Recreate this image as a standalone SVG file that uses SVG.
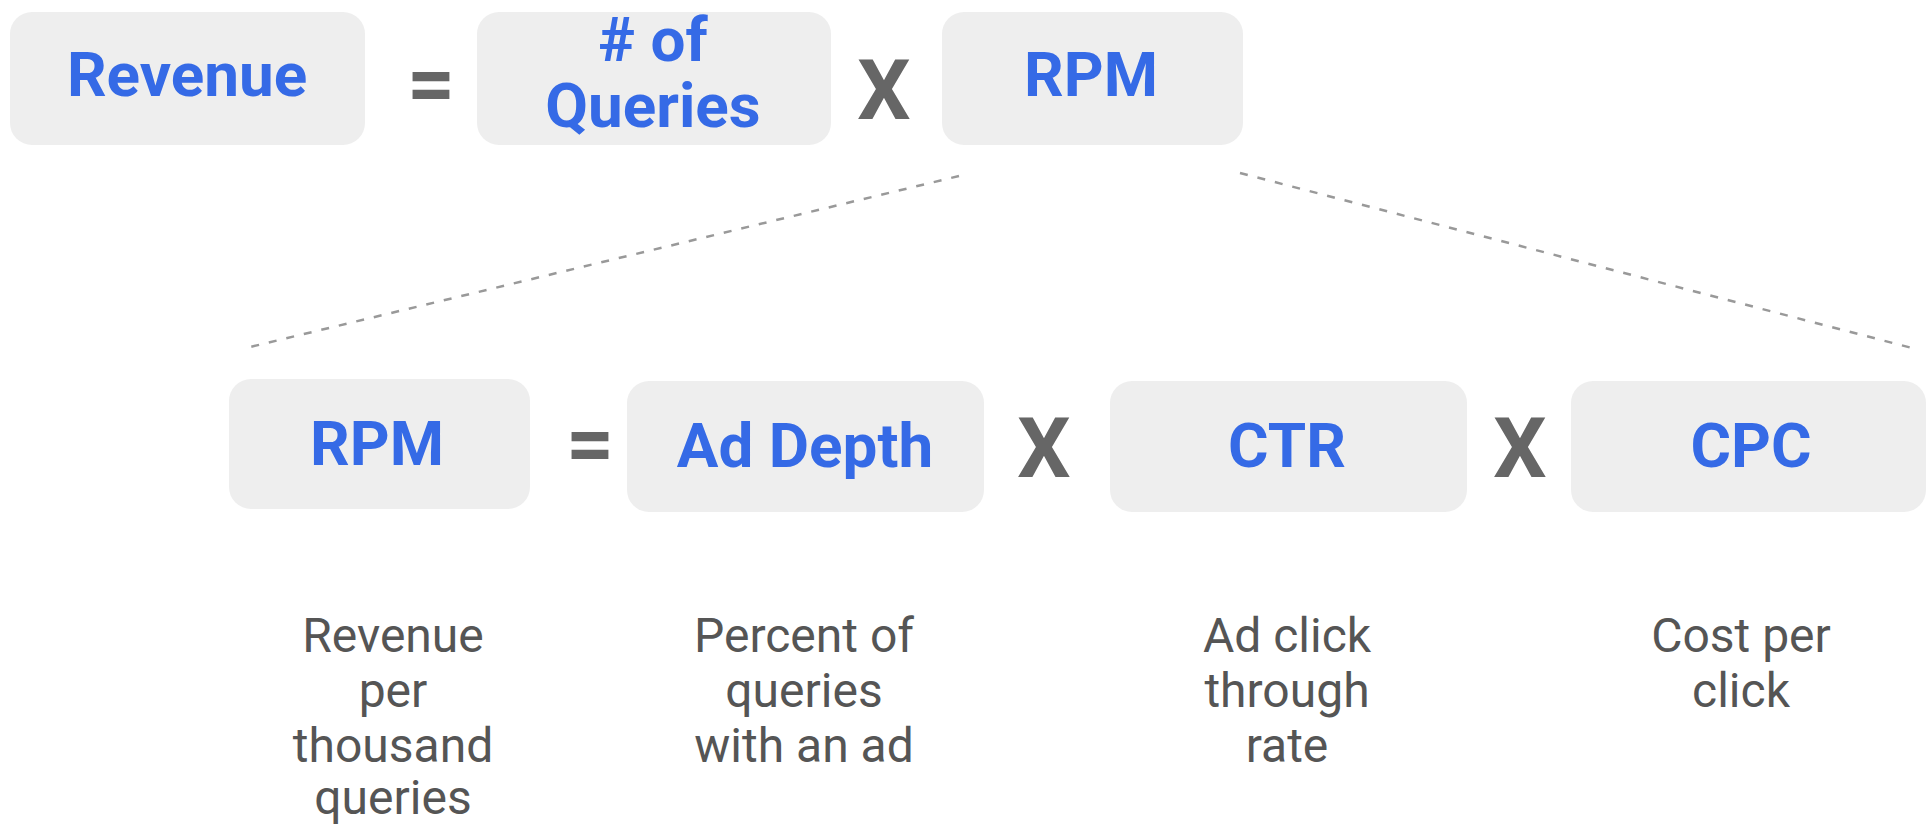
<svg xmlns="http://www.w3.org/2000/svg" width="1928" height="836" viewBox="0 0 1928 836">
<style>
.box{fill:#eeeeee;}
.lbl{font-family:Roboto,"Liberation Sans",sans-serif;font-weight:bold;font-size:62px;fill:#356ae6;text-anchor:middle;}
.op{font-family:Roboto,"Liberation Sans",sans-serif;font-weight:bold;font-size:84px;fill:#666666;text-anchor:middle;}
.desc{font-family:Roboto,"Liberation Sans",sans-serif;font-size:48px;fill:#555555;text-anchor:middle;}
.conn{stroke:#999999;stroke-width:2.5;stroke-dasharray:8 10;fill:none;}
</style>
<rect width="1928" height="836" fill="#ffffff"/>
<g id="connectors">
<line class="conn" x1="959" y1="176" x2="246" y2="348"/>
<line class="conn" x1="1240" y1="173" x2="1912" y2="348"/>
</g>
<g id="revenue"><rect class="box" x="10" y="12" width="355" height="133" rx="22"/><text class="lbl" x="187" y="96">Revenue</text></g>
<g id="eq1"><text class="op" x="431" y="112">=</text></g>
<g id="queries"><rect class="box" x="477" y="12" width="354" height="133" rx="22"/><text class="lbl" x="653" y="61">
# of</text><text class="lbl" x="653" y="127">Queries</text></g>
<g id="x1"><text class="op" x="884" y="119">X</text></g>
<g id="rpm-top"><rect class="box" x="942" y="12" width="301" height="133" rx="22"/><text class="lbl" x="1091" y="96">RPM</text></g>
<g id="rpm"><rect class="box" x="229" y="379" width="301" height="130" rx="22"/><text class="lbl" x="377" y="465">RPM</text></g>
<g id="eq2"><text class="op" x="590" y="472">=</text></g>
<g id="addepth"><rect class="box" x="627" y="381" width="357" height="131" rx="22"/><text class="lbl" x="805" y="467">Ad Depth</text></g>
<g id="x2"><text class="op" x="1044" y="477">X</text></g>
<g id="ctr"><rect class="box" x="1110" y="381" width="357" height="131" rx="22"/><text class="lbl" x="1287" y="467">CTR</text></g>
<g id="x3"><text class="op" x="1520" y="477">X</text></g>
<g id="cpc"><rect class="box" x="1571" y="381" width="355" height="131" rx="22"/><text class="lbl" x="1751" y="467">CPC</text></g>
<g id="desc-rpm"><text class="desc" x="393" y="652">Revenue</text><text class="desc" x="393" y="707">per</text><text class="desc" x="393" y="762">thousand</text><text class="desc" x="393" y="814">queries</text></g>
<g id="desc-addepth"><text class="desc" x="804" y="652">Percent of</text><text class="desc" x="804" y="707">queries</text><text class="desc" x="804" y="762">with an ad</text></g>
<g id="desc-ctr"><text class="desc" x="1287" y="652">Ad click</text><text class="desc" x="1287" y="707">through</text><text class="desc" x="1287" y="762">rate</text></g>
<g id="desc-cpc"><text class="desc" x="1741" y="652">Cost per</text><text class="desc" x="1741" y="707">click</text></g>
</svg>
